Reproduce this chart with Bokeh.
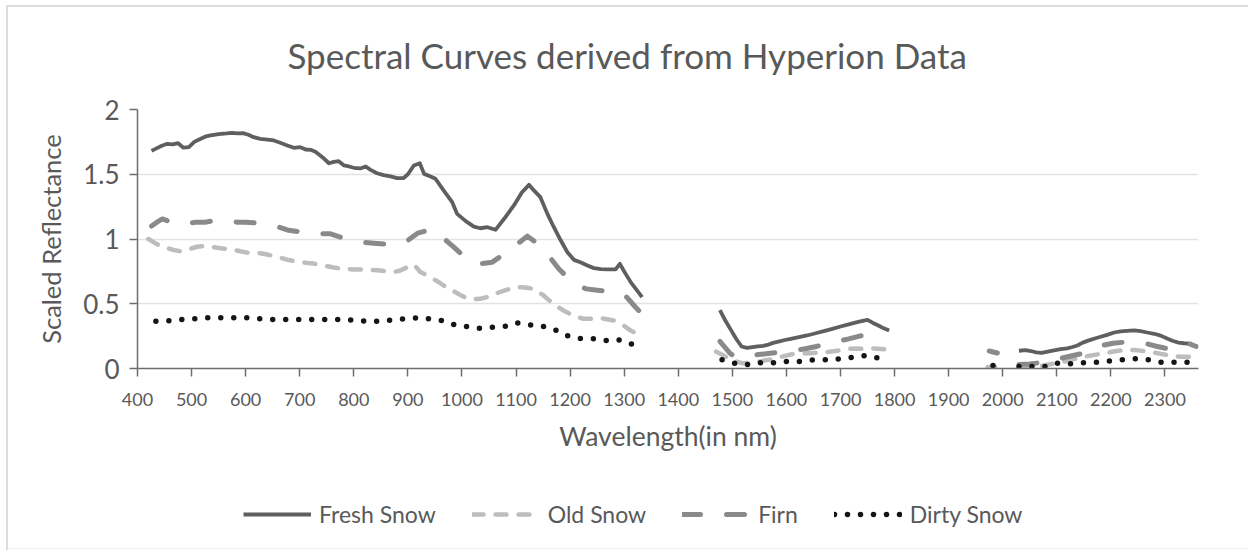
from bokeh.plotting import figure
from bokeh.models import Range1d, Legend, LegendItem, FixedTicker
from bokeh.layouts import column
from bokeh.embed import file_html
from bokeh.resources import INLINE

NaN = float("nan")

# ---------------- data ----------------
fresh_wl = [426, 435, 445, 455, 465, 475, 485, 495, 505, 515, 525, 535, 550, 565, 575, 585, 595,
            605, 615, 627, 640, 652, 664, 677, 689, 701, 711, 720, 729, 742, 754, 763, 772, 782,
            791, 800, 812, 822, 831, 843, 855, 868, 880, 892, 900, 911, 922, 930, 942, 951, 966,
            982, 991, 1007, 1022, 1034, 1047, 1062, 1078, 1096, 1111, 1124, 1133, 1145, 1158,
            1170, 1182, 1195, 1207, 1219, 1232, 1244, 1257, 1269, 1284, 1292, 1299, 1312, 1324,
            1333, NaN,
            1477, 1487, 1497, 1507, 1517, 1527, 1537, 1547, 1557, 1567, 1577, 1587, 1597, 1608,
            1623, 1638, 1654, 1669, 1685, 1700, 1715, 1731, 1741, 1750, 1760, 1770, 1780, 1790, NaN,
            2030, 2042, 2052, 2062, 2072, 2083, 2095, 2107, 2119, 2129, 2138, 2148, 2158, 2170,
            2181, 2193, 2206, 2218, 2230, 2243, 2255, 2267, 2280, 2292, 2305, 2315, 2325, 2335, 2350]
fresh_refl = [1.68, 1.70, 1.72, 1.735, 1.73, 1.74, 1.705, 1.71, 1.75, 1.77, 1.79, 1.80, 1.81, 1.815,
              1.82, 1.815, 1.818, 1.805, 1.786, 1.773, 1.768, 1.761, 1.743, 1.722, 1.704, 1.709,
              1.691, 1.689, 1.673, 1.632, 1.585, 1.596, 1.601, 1.568, 1.56, 1.55, 1.545, 1.56,
              1.534, 1.508, 1.493, 1.483, 1.47, 1.47, 1.50, 1.568, 1.585, 1.503, 1.483, 1.465,
              1.375, 1.284, 1.194, 1.138, 1.096, 1.083, 1.091, 1.071, 1.156, 1.259, 1.361, 1.418,
              1.375, 1.323, 1.194, 1.091, 0.994, 0.898, 0.839, 0.821, 0.795, 0.775, 0.767, 0.765,
              0.765, 0.808, 0.757, 0.667, 0.602, 0.551, NaN,
              0.45, 0.37, 0.30, 0.23, 0.17, 0.16, 0.165, 0.17, 0.175, 0.185, 0.20, 0.21, 0.22,
              0.229, 0.242, 0.255, 0.272, 0.288, 0.306, 0.324, 0.341, 0.358, 0.368, 0.376, 0.352,
              0.332, 0.31, 0.293, NaN,
              0.137, 0.142, 0.135, 0.125, 0.12, 0.13, 0.14, 0.15, 0.156, 0.166, 0.178, 0.20, 0.215,
              0.232, 0.245, 0.26, 0.278, 0.287, 0.29, 0.294, 0.288, 0.278, 0.268, 0.254, 0.229,
              0.212, 0.20, 0.195, 0.19]

old_wl = [420, 428, 436, 445, 455, 467, 480, 490, 498, 510, 525, 541, 560, 578, 590, 603, 615, 627,
          640, 652, 665, 677, 690, 701, 714, 726, 738, 751, 763, 775, 788, 800, 812, 825, 837, 849,
          862, 874, 886, 899, 911, 923, 942, 955, 966, 977, 988, 999, 1010, 1022, 1034, 1045, 1056,
          1067, 1078, 1088, 1099, 1110, 1121, 1133, 1142, 1151, 1160, 1170, 1179, 1188, 1198, 1207,
          1216, 1225, 1235, 1244, 1256, 1268, 1281, 1290, 1299, 1312, 1324, 1333, NaN,
          1470, 1480, 1490, 1500, 1510, 1520, 1535, 1550, 1570, 1590, 1610, 1630, 1650, 1670, 1690,
          1710, 1730, 1745, 1760, 1775, 1790, NaN,
          1972, 1986, NaN,
          2030, 2050, 2070, 2090, 2110, 2130, 2150, 2170, 2190, 2210, 2230, 2250, 2270, 2290, 2310,
          2330, 2350]
old_refl = [1.00, 0.98, 0.96, 0.94, 0.93, 0.915, 0.905, 0.915, 0.925, 0.94, 0.945, 0.937, 0.925,
            0.917, 0.905, 0.895, 0.89, 0.89, 0.88, 0.867, 0.855, 0.84, 0.83, 0.822, 0.815, 0.81,
            0.80, 0.79, 0.78, 0.772, 0.767, 0.765, 0.765, 0.765, 0.76, 0.757, 0.75, 0.745, 0.757,
            0.782, 0.803, 0.745, 0.705, 0.672, 0.641, 0.615, 0.589, 0.563, 0.54, 0.535, 0.538,
            0.55, 0.564, 0.585, 0.602, 0.615, 0.628, 0.628, 0.623, 0.615, 0.59, 0.564, 0.53, 0.50,
            0.472, 0.448, 0.425, 0.409, 0.395, 0.384, 0.384, 0.384, 0.389, 0.38, 0.371, 0.35, 0.332,
            0.293, 0.268, 0.25, NaN,
            0.13, 0.11, 0.085, 0.065, 0.05, 0.04, 0.045, 0.055, 0.07, 0.09, 0.11, 0.115, 0.12, 0.125,
            0.135, 0.15, 0.155, 0.15, 0.155, 0.15, 0.145, NaN,
            0.012, 0.012, NaN,
            0.01, 0.015, 0.02, 0.035, 0.05, 0.07, 0.09, 0.105, 0.12, 0.135, 0.145, 0.14, 0.13, 0.115,
            0.10, 0.09, 0.09]

firn_wl = [426, 436, 446, 456, 468, 480, 495, 508, 525, 540, 554, 570, 585, 600, 615, 637, 655, 677,
           700, 720, 740, 757, 775, 795, 815, 837, 860, 881, 900, 918, 936, 950, 960, 973, 985, 1000,
           1019, 1035, 1056, 1073, 1090, 1105, 1121, 1138, 1154, 1166, 1179, 1196, 1213, 1230, 1250,
           1270, 1290, 1305, 1321, 1336, NaN,
           1477, 1485, 1495, 1505, 1515, 1530, 1549, 1570, 1589, 1612, 1635, 1655, 1675, 1695, 1715,
           1735, 1756, NaN,
           1975, 1990, NaN,
           2030, 2050, 2070, 2085, 2104, 2124, 2144, 2164, 2184, 2204, 2224, 2245, 2267, 2286, 2305,
           2325, 2342, 2358]
firn_refl = [1.10, 1.13, 1.155, 1.14, 1.12, 1.115, 1.12, 1.13, 1.13, 1.14, 1.145, 1.14, 1.13, 1.13,
             1.125, 1.115, 1.10, 1.07, 1.055, 1.04, 1.04, 1.04, 1.015, 0.988, 0.975, 0.968, 0.96,
             0.958, 0.99, 1.045, 1.065, 1.065, 1.03, 0.98, 0.937, 0.88, 0.821, 0.81, 0.821, 0.87,
             0.91, 0.97, 1.022, 0.97, 0.911, 0.84, 0.77, 0.70, 0.641, 0.615, 0.605, 0.595, 0.589,
             0.55, 0.473, 0.409, NaN,
             0.21, 0.17, 0.12, 0.09, 0.085, 0.095, 0.108, 0.118, 0.126, 0.14, 0.152, 0.17, 0.19, 0.21,
             0.229, 0.25, 0.268, NaN,
             0.135, 0.12, NaN,
             0.03, 0.035, 0.045, 0.06, 0.075, 0.095, 0.113, 0.145, 0.178, 0.195, 0.203, 0.20, 0.19,
             0.17, 0.152, 0.16, 0.195, 0.17]

dirty_wl = [434, 457, 480, 505, 529, 554, 579, 603, 628, 652, 676, 700, 725, 750, 773, 798, 822, 846,
            870, 894, 918, 941, 962, 985, 1008, 1032, 1056, 1079, 1102, 1125, 1148, 1171, 1193, 1217,
            1241, 1265, 1288, 1312, 1322, NaN,
            1481, 1504, 1529, 1553, 1578, 1601, 1626, 1649, 1674, 1698, 1722, 1746, 1771, NaN,
            1982, 1990, NaN,
            2030, 2055, 2078, 2101, 2126, 2149, 2173, 2196, 2221, 2246, 2270, 2293, 2316, 2341]
dirty_refl = [0.365, 0.368, 0.378, 0.383, 0.391, 0.391, 0.391, 0.391, 0.383, 0.378, 0.378, 0.378,
              0.378, 0.378, 0.378, 0.375, 0.365, 0.365, 0.375, 0.383, 0.391, 0.383, 0.371, 0.34,
              0.324, 0.311, 0.319, 0.324, 0.353, 0.337, 0.327, 0.301, 0.255, 0.232, 0.232, 0.216,
              0.224, 0.19, 0.18, NaN,
              0.067, 0.041, 0.031, 0.044, 0.044, 0.054, 0.054, 0.067, 0.067, 0.075, 0.087, 0.10, 0.08,
              NaN,
              0.023, 0.023, NaN,
              0.015, 0.015, 0.015, 0.041, 0.036, 0.044, 0.049, 0.057, 0.067, 0.075, 0.067, 0.049,
              0.049, 0.049]

series_names = ["Fresh Snow", "Old Snow", "Firn", "Dirty Snow"]
x_ticks = list(range(400, 2301, 100))
y_ticks = [0, 0.5, 1, 1.5, 2]
y_tick_labels = ["0", "0.5", "1", "1.5", "2"]

# ---------------- styles ----------------
FONT = "Lato"
TXT = "#595959"
line_styles = [
    dict(line_color="#5f5f5f", line_width=3.8, line_join="round"),
    dict(line_color="#bdbdbd", line_width=4.5, line_dash="11 12", line_cap="round", line_join="round"),
    dict(line_color="#8a8a8a", line_width=5, line_dash="18 26", line_cap="round", line_join="round"),
    dict(line_color="#151515", line_width=5.5, line_dash="0 13", line_cap="round", line_join="round"),
]
series = [(fresh_wl, fresh_refl), (old_wl, old_refl), (firn_wl, firn_refl), (dirty_wl, dirty_refl)]

# ---------------- main chart ----------------
p = figure(width=1248, height=458, output_backend="svg", toolbar_location=None,
           x_range=Range1d(400, 2362), y_range=Range1d(0, 2),
           min_border_left=137, min_border_right=50, min_border_top=109, min_border_bottom=90)
p.outline_line_color = None
p.background_fill_color = "white"
p.border_fill_color = None

p.title.text = "Spectral Curves derived from Hyperion Data"
p.title.align = "left"
p.title.vertical_align = "top"
p.title.text_font = FONT
p.title.text_font_size = "35px"
p.title.text_font_style = "normal"
p.title.text_color = TXT
p.title.offset = 150
p.title.standoff = 64

p.xgrid.visible = False
p.ygrid.grid_line_color = "#e3e3e3"
p.ygrid.grid_line_width = 1.5
p.ygrid.ticker = FixedTicker(ticks=y_ticks)

xa = p.xaxis[0]
xa.ticker = FixedTicker(ticks=x_ticks)
xa.axis_label = "Wavelength(in nm)"
ya = p.yaxis[0]
ya.ticker = FixedTicker(ticks=y_ticks)
ya.major_label_overrides = {t: l for t, l in zip(y_ticks, y_tick_labels)}
ya.axis_label = "Scaled Reflectance"

for ax in (xa, ya):
    ax.axis_line_color = "#6e6e6e"
    ax.axis_line_width = 1.5
    ax.major_tick_line_color = "#6e6e6e"
    ax.major_tick_line_width = 1.5
    ax.major_tick_out = 8
    ax.major_tick_in = 0
    ax.minor_tick_line_color = None
    ax.major_label_text_font = FONT
    ax.major_label_text_color = TXT
    ax.axis_label_text_font = FONT
    ax.axis_label_text_color = TXT
    ax.axis_label_text_font_style = "normal"

xa.major_label_text_font_size = "18px"
xa.major_label_standoff = 16
xa.axis_label_text_font_size = "26.5px"
xa.axis_label_standoff = 11
ya.major_label_text_font_size = "26px"
ya.major_label_standoff = 10
ya.axis_label_text_font_size = "25.5px"
ya.axis_label_standoff = 14

for (wl, refl), st in zip(series, line_styles):
    p.line(wl, refl, **st)

# ---------------- legend strip (below the chart) ----------------
# same series drawn again, but this strip's y range lies far above them, so only the
# legend swatches are visible here
pl = figure(width=1248, height=92, output_backend="svg", toolbar_location=None,
            x_range=Range1d(400, 2362), y_range=Range1d(100, 101), min_border=0,
            x_axis_location=None, y_axis_location=None)
pl.outline_line_color = None
pl.grid.visible = False
pl.background_fill_color = None
pl.border_fill_color = None
leg_renderers = [pl.line(wl, refl, **st) for (wl, refl), st in zip(series, line_styles)]

legend = Legend(items=[LegendItem(label=n, renderers=[r]) for n, r in
                       zip(series_names, leg_renderers)],
                orientation="horizontal", location=(106, 22))
legend.glyph_width = 68
legend.glyph_height = 20
legend.label_standoff = 8
legend.spacing = 36
legend.padding = 0
legend.margin = 0
legend.border_line_color = None
legend.background_fill_alpha = 0
legend.label_text_font = FONT
legend.label_text_font_size = "23px"
legend.label_text_color = TXT
pl.add_layout(legend, "center")

layout = column(p, pl, spacing=0)
# thin chart-area frame (top and left edges, faint bottom edge) painted behind the canvases
layout.styles = {
    "background-color": "white",
    "background-image": ("linear-gradient(#dcdcdc, #dcdcdc), linear-gradient(#dcdcdc, #dcdcdc), "
                         "linear-gradient(#efefef, #efefef)"),
    "background-position": "6px 5px, 6px 5px, 6px 548px",
    "background-size": "2px 100%, 100% 2px, 100% 1px",
    "background-repeat": "no-repeat",
}

open("out.html", "w").write(file_html(layout, INLINE))
